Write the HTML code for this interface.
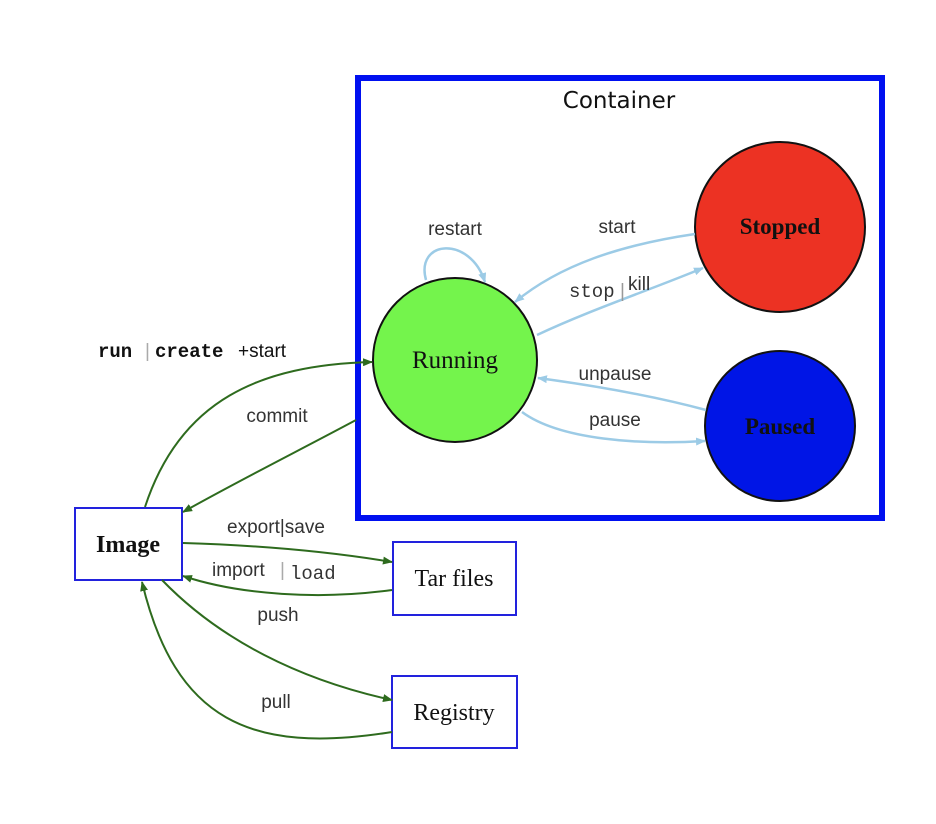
<!DOCTYPE html>
<html><head><meta charset="utf-8"><style>
html,body{margin:0;padding:0;background:#fff;}
svg{display:block}
.s{font-family:"Liberation Sans",sans-serif;font-size:19px;fill:#333}
.m{font-family:"Liberation Mono",monospace;font-size:19px;fill:#333}
.sr{font-family:"Liberation Serif",serif;font-size:23px;font-weight:bold;fill:#111}
</style></head><body>
<svg width="936" height="824" viewBox="0 0 936 824" xmlns="http://www.w3.org/2000/svg">
<defs>
<marker id="g" markerWidth="10" markerHeight="8" refX="9" refY="4" orient="auto" markerUnits="userSpaceOnUse" viewBox="0 0 10 8"><path d="M0,0L10,4L0,8z" fill="#2e6b1e"/></marker>
<marker id="b" markerWidth="10" markerHeight="8" refX="9" refY="4" orient="auto" markerUnits="userSpaceOnUse" viewBox="0 0 10 8"><path d="M0,0L10,4L0,8z" fill="#9ccbe6"/></marker>
</defs>
<rect x="358" y="78" width="524" height="440" fill="none" stroke="#0010f0" stroke-width="6"/>
<text x="619" y="108" text-anchor="middle" style="font-family:'DejaVu Sans',sans-serif;font-size:23px;fill:#111">Container</text>
<circle cx="455" cy="360" r="82" fill="#74f44c" stroke="#111" stroke-width="2"/>
<circle cx="780" cy="227" r="85" fill="#ec3223" stroke="#111" stroke-width="2"/>
<circle cx="780" cy="426" r="75" fill="#0015e6" stroke="#111" stroke-width="2"/>
<text x="455" y="368" text-anchor="middle" class="sr" style="font-weight:normal;font-size:25px">Running</text>
<text x="780" y="234" text-anchor="middle" class="sr">Stopped</text>
<text x="780" y="434" text-anchor="middle" class="sr">Paused</text>
<g fill="none" stroke="#9ccbe6" stroke-width="2.5">
<path d="M426,280 C415,240 470,235 485,282" marker-end="url(#b)"/>
<path d="M695,234 C620,245 560,265 515,302" marker-end="url(#b)"/>
<path d="M537,335 C590,310 650,290 703,268" marker-end="url(#b)"/>
<path d="M706,410 C650,395 590,385 538,378" marker-end="url(#b)"/>
<path d="M522,412 C560,440 640,445 705,441" marker-end="url(#b)"/>
</g>
<text x="455" y="235" text-anchor="middle" class="s">restart</text>
<text x="617" y="233" text-anchor="middle" class="s">start</text>
<text x="569" y="297" class="m">stop</text><text x="620" y="297" class="s" style="fill:#999">|</text><text x="628" y="290" class="s">kill</text>
<text x="615" y="380" text-anchor="middle" class="s">unpause</text>
<text x="615" y="426" text-anchor="middle" class="s">pause</text>
<rect x="75" y="508" width="107" height="72" fill="#fff" stroke="#2222dd" stroke-width="2"/>
<rect x="393" y="542" width="123" height="73" fill="#fff" stroke="#2222dd" stroke-width="2"/>
<rect x="392" y="676" width="125" height="72" fill="#fff" stroke="#2222dd" stroke-width="2"/>
<text x="128" y="552" text-anchor="middle" class="sr" style="font-size:24px">Image</text>
<text x="454" y="586" text-anchor="middle" class="sr" style="font-weight:normal;font-size:24px">Tar files</text>
<text x="454" y="720" text-anchor="middle" class="sr" style="font-weight:normal;font-size:24px">Registry</text>
<g fill="none" stroke="#2e6b1e" stroke-width="2">
<path d="M145,507 C180,400 260,365 372,362" marker-end="url(#g)"/>
<path d="M356,420 C300,450 240,480 183,512" marker-end="url(#g)"/>
<path d="M183,543 C250,545 320,550 392,562" marker-end="url(#g)"/>
<path d="M392,590 C320,600 240,595 183,576" marker-end="url(#g)"/>
<path d="M162,580 C220,640 300,680 392,700" marker-end="url(#g)"/>
<path d="M392,732 C250,755 175,720 142,582" marker-end="url(#g)"/>
</g>
<text x="98" y="357" class="m" style="font-weight:bold;fill:#111">run</text><text x="145" y="357" class="s" style="fill:#aaa">|</text><text x="155" y="357" class="m" style="font-weight:bold;fill:#111">create</text><text x="238" y="357" class="s" style="fill:#111">+start</text>
<text x="277" y="422" text-anchor="middle" class="s">commit</text>
<text x="276" y="533" text-anchor="middle" class="s">export|save</text>
<text x="212" y="576" class="s">import</text><text x="280" y="576" class="s" style="fill:#aaa">|</text><text x="290" y="579" class="m">load</text>
<text x="278" y="621" text-anchor="middle" class="s">push</text>
<text x="276" y="708" text-anchor="middle" class="s">pull</text>
</svg>
</body></html>
